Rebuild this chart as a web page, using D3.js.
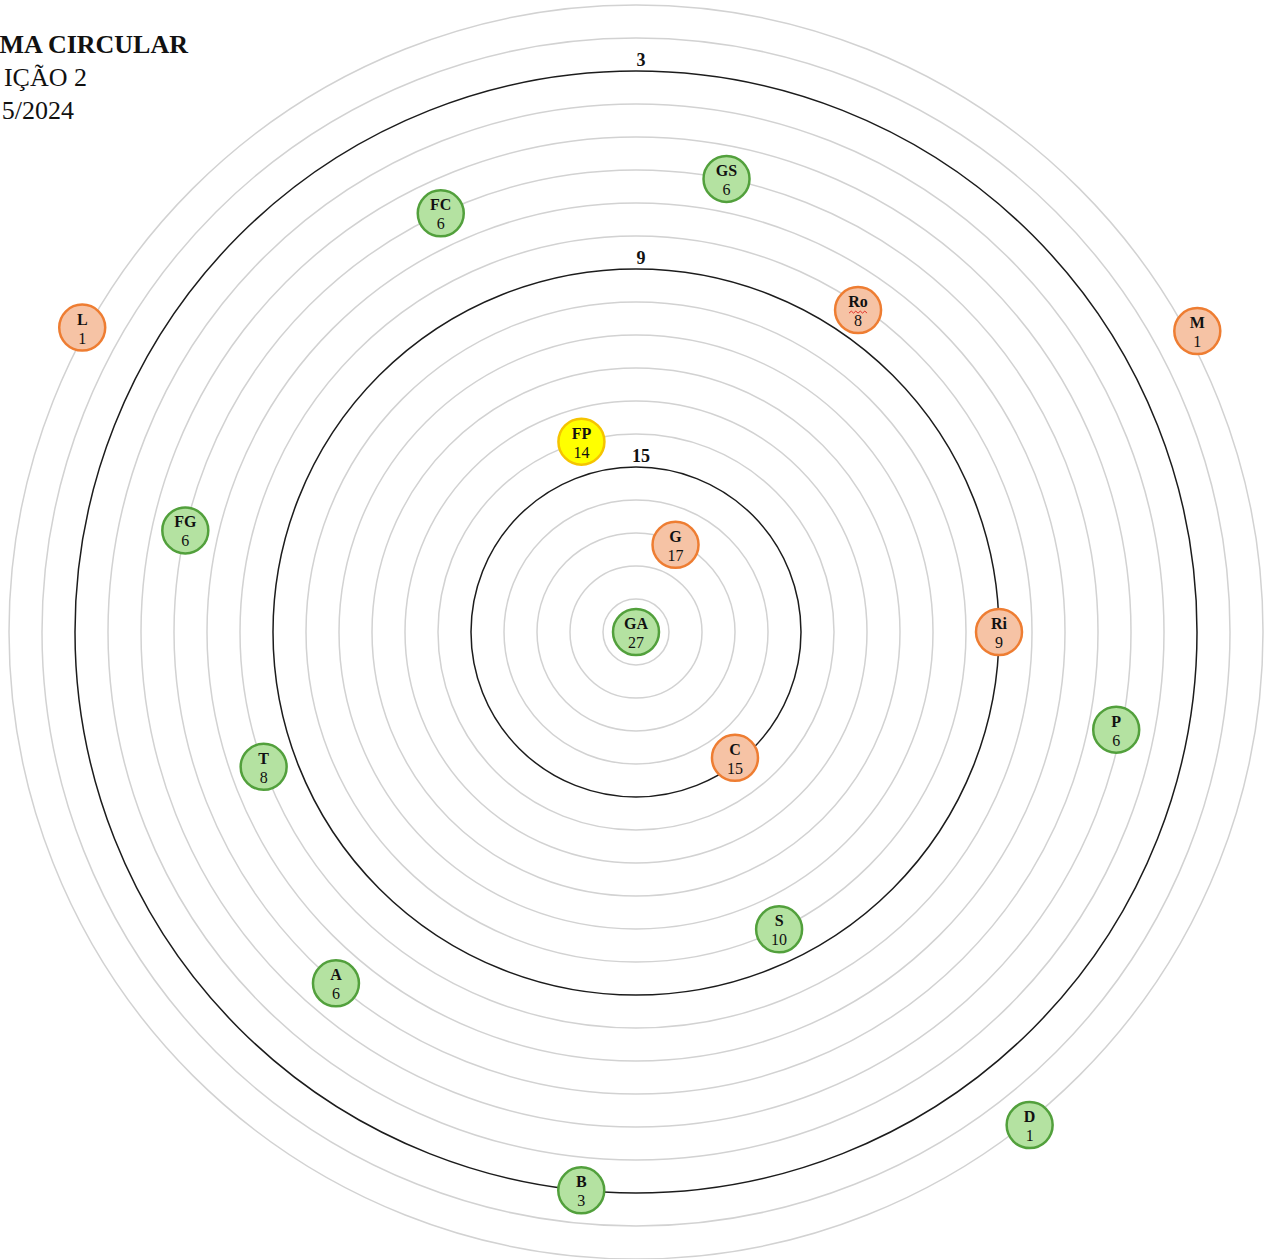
<!DOCTYPE html>
<html>
<head>
<meta charset="utf-8">
<script src="https://cdn.jsdelivr.net/npm/d3@7"></script>
<style>
  body { margin: 0; background: white; overflow: hidden; }
  svg { display: block; }
</style>
</head>
<body>
<script>
// chart data
// title as it shows in the original (the left part is cut off there)
const titleLines = ['MA CIRCULAR', 'IÇÃO 2', '5/2024']
const ringLevels = d3.range(1, 20)
const majorRings = [3, 9, 15]
const names = ['GA', 'G', 'FP', 'C', 'Ri', 'Ro', 'S', 'GS', 'FC', 'FG', 'T', 'A', 'B', 'D', 'P', 'M', 'L']
const values = [27, 17, 14, 15, 9, 8, 10, 6, 6, 6, 8, 6, 3, 1, 6, 1, 1]
// radial position of each bubble (in ring units)
const levels = [27, 17.1, 14, 15.15, 9, 8.15, 10, 6, 6, 6, 8, 6, 3, 0.88, 5.15, 0.7, 0.85]
const angles = [0, 24.4, 344, 141.8, 90, 34.6, 154.3, 11.3, 335, 282.7, 250.1, 220.5, 185.6, 141.4, 101.5, 61.8, 298.8]
const groups = ['green', 'orange', 'yellow', 'orange', 'orange', 'orange', 'green', 'green', 'green', 'green', 'green', 'green', 'green', 'green', 'green', 'orange', 'orange']

const width = 1275
const height = 1259
const cx = 636
const cy = 632

const fills = { green: '#b4e2a1', orange: '#f6c3a5', yellow: '#ffff00' }
const strokes = { green: '#52a03c', orange: '#ee7d32', yellow: '#f5c400' }
const serif = 'Liberation Serif, Times New Roman, serif'

const svg = d3.select('body').append('svg').attr('width', width).attr('height', height)

const rScale = d3.scaleLinear().domain([20, 0]).range([0, 660]).clamp(true)

const g = svg.append('g').attr('transform', `translate(${cx},${cy})`)

g.selectAll('circle.ring').data(ringLevels).enter().append('circle')
    .attr('class', 'ring')
    .attr('r', (d) => rScale(d))
    .attr('fill', 'none')
    .attr('stroke', (d) => majorRings.includes(d) ? '#1c1c1c' : '#d2d2d2')
    .attr('stroke-width', 1.5)

g.selectAll('text.ringLabel').data(majorRings).enter().append('text')
    .attr('class', 'ringLabel')
    .attr('x', 5)
    .attr('y', (d) => -rScale(d) - 5)
    .attr('text-anchor', 'middle')
    .attr('font-family', serif)
    .attr('font-weight', 'bold')
    .attr('font-size', 18)
    .attr('fill', '#111')
    .text((d) => d)

const nodes = names.map((n, i) => {
    const r = rScale(levels[i])
    const a = angles[i] * Math.PI / 180
    return { name: n, value: values[i], group: groups[i], x: r * Math.sin(a), y: -r * Math.cos(a) }
})

const node = g.selectAll('g.node').data(nodes).enter().append('g')
    .attr('class', 'node')
    .attr('transform', (d) => `translate(${d.x},${d.y})`)

node.append('circle')
    .attr('r', 23)
    .attr('fill', (d) => fills[d.group])
    .attr('stroke', (d) => strokes[d.group])
    .attr('stroke-width', 2.5)

node.append('text')
    .attr('y', -3)
    .attr('text-anchor', 'middle')
    .attr('font-family', serif)
    .attr('font-weight', 'bold')
    .attr('font-size', 16)
    .attr('fill', '#111')
    .text((d) => d.name)

node.append('text')
    .attr('y', 16)
    .attr('text-anchor', 'middle')
    .attr('font-family', serif)
    .attr('font-size', 16)
    .attr('fill', '#111')
    .text((d) => d.value)

// spell-check squiggle under "Ro"
node.filter((d) => d.name === 'Ro').append('path')
    .attr('d', d3.range(0, 9).map((i) => `${i === 0 ? 'M' : 'L'}${-9 + i * 2.25},${i % 2 ? 1 : 3}`).join(''))
    .attr('fill', 'none')
    .attr('stroke', '#e0302a')
    .attr('stroke-width', 1)

svg.selectAll('text.title').data(titleLines).enter().append('text')
    .attr('class', 'title')
    .attr('x', (d, i) => [188, 87, 74][i])
    .attr('y', (d, i) => 53 + i * 33)
    .attr('text-anchor', 'end')
    .attr('font-family', serif)
    .attr('font-weight', (d, i) => i === 0 ? 'bold' : 'normal')
    .attr('font-size', 26)
    .attr('fill', '#111')
    .text((d) => d)
</script>
</body>
</html>
